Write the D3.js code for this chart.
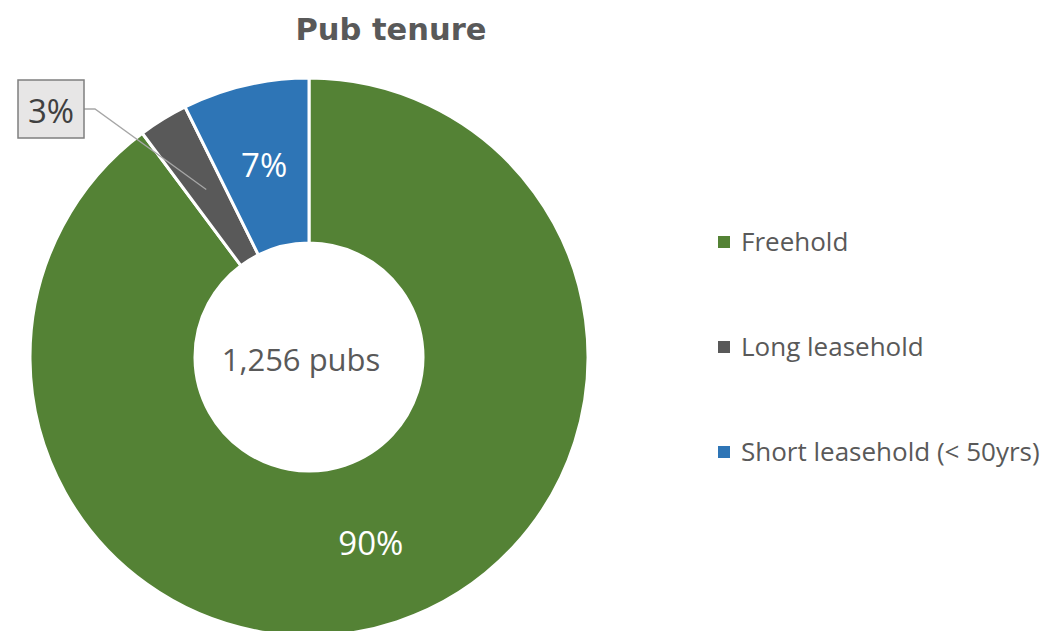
<!DOCTYPE html>
<html>
<head>
<meta charset="utf-8">
<script src="https://cdn.jsdelivr.net/npm/d3@7"></script>
<style>
  body { margin: 0; background: #fff; }
  svg { display: block; }
</style>
</head>
<body>
<div id="chart"></div>
<script>
'use strict';

// data
const categories = ['Freehold', 'Long leasehold', 'Short leasehold (< 50yrs)'];
const pub_counts = [1128, 36, 92];
const seg_colors = ['#548235', '#595959', '#2e75b6'];
const total_label = '1,256 pubs';
const chart_title = 'Pub tenure';

const width = 1049, height = 631;
const cx = 309, cy = 357;
const outer_r = 279, inner_r = 114;

const svg = d3.select('#chart').append('svg')
  .attr('width', width)
  .attr('height', height);

// title
svg.append('text')
  .attr('x', 391)
  .attr('y', 40)
  .attr('text-anchor', 'middle')
  .style('font-family', '"DejaVu Sans", sans-serif')
  .style('font-weight', 'bold')
  .style('font-size', '30.5px')
  .style('fill', '#595959')
  .text(chart_title);

const total = d3.sum(pub_counts);
const pct = d3.format('.0%');

const pie = d3.pie().sort(null).value(d => d.value);
const arc = d3.arc().innerRadius(inner_r).outerRadius(outer_r);

const data = categories.map((c, i) => ({ name: c, value: pub_counts[i], color: seg_colors[i] }));
const arcs = pie(data);

const donut_g = svg.append('g')
  .attr('transform', `translate(${cx},${cy})`);

donut_g.selectAll('path')
  .data(arcs)
  .join('path')
  .attr('d', arc)
  .attr('fill', d => d.data.color)
  .attr('stroke', '#fff')
  .attr('stroke-width', 3);

// centre text
donut_g.append('text')
  .attr('x', -8)
  .attr('y', 3)
  .attr('dy', '0.35em')
  .attr('text-anchor', 'middle')
  .style('font-family', '"Open Sans", sans-serif')
  .style('font-size', '31px')
  .style('fill', '#595959')
  .text(total_label);

// labels inside the big slices, at the slice centroids
donut_g.selectAll('text.seg')
  .data(arcs.filter(d => d.data.name !== 'Long leasehold'))
  .join('text')
  .attr('class', 'seg')
  .attr('x', d => arc.centroid(d)[0])
  .attr('y', d => arc.centroid(d)[1])
  .attr('dy', '0.35em')
  .attr('text-anchor', 'middle')
  .style('font-family', '"Open Sans", sans-serif')
  .style('font-size', '33px')
  .style('fill', '#fff')
  .text(d => pct(d.data.value / total));

// callout for the small slice
const small = arcs.find(d => d.data.name === 'Long leasehold');
const small_c = arc.centroid(small);
const box = { x: 18, y: 80, w: 66, h: 58 };
svg.append('polyline')
  .attr('points', [[box.x + box.w, box.y + 29], [box.x + box.w + 11, box.y + 29],
    [cx + small_c[0], cy + small_c[1]]].map(p => p.join(',')).join(' '))
  .attr('fill', 'none')
  .attr('stroke', '#a6a6a6')
  .attr('stroke-width', 1.3);
svg.append('rect')
  .attr('x', box.x)
  .attr('y', box.y)
  .attr('width', box.w)
  .attr('height', box.h)
  .attr('fill', '#e7e6e6')
  .attr('stroke', '#7f7f7f')
  .attr('stroke-width', 1.5);
svg.append('text')
  .attr('x', box.x + box.w / 2)
  .attr('y', box.y + 31)
  .attr('dy', '0.35em')
  .attr('text-anchor', 'middle')
  .style('font-family', '"Open Sans", sans-serif')
  .style('font-size', '33px')
  .style('fill', '#404040')
  .text(pct(small.data.value / total));

// legend
const legend_y = d3.scalePoint()
  .domain(categories)
  .range([242, 452]);
const legend_g = svg.append('g')
  .selectAll('g')
  .data(data)
  .join('g')
  .attr('transform', d => `translate(718,${legend_y(d.name)})`);
legend_g.append('rect')
  .attr('x', 0)
  .attr('y', -6)
  .attr('width', 12)
  .attr('height', 12)
  .attr('fill', d => d.color);
legend_g.append('text')
  .attr('x', 23)
  .attr('y', 0)
  .attr('dy', '0.35em')
  .style('font-family', '"Open Sans", sans-serif')
  .style('font-size', '26px')
  .style('fill', '#595959')
  .text(d => d.name);
</script>
</body>
</html>
